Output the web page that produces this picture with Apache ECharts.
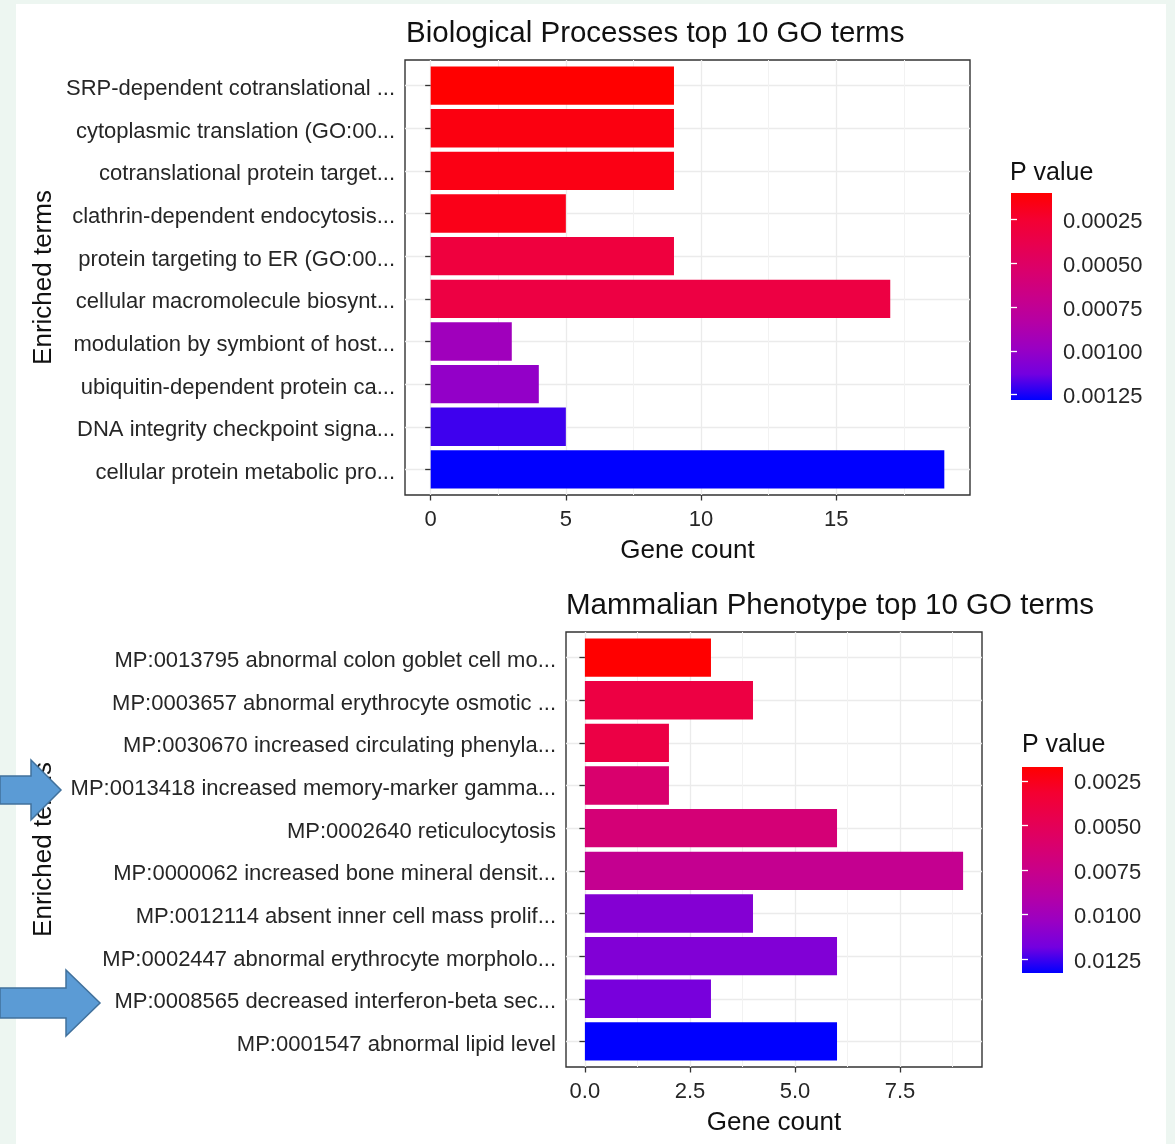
<!DOCTYPE html>
<html><head><meta charset="utf-8">
<script src="https://cdn.jsdelivr.net/npm/echarts@6/dist/echarts.min.js"></script>
<style>
html,body{margin:0;padding:0;background:#EDF6F1;width:1175px;height:1144px;overflow:hidden;}
#bg{position:absolute;left:16px;top:4px;width:1150px;height:1140px;background:#ffffff;}
#c{position:absolute;left:0;top:0;width:1175px;height:1144px;}
</style>
</head><body><div id="bg"></div><div id="c"></div>
<script>
// ---------- data ----------
const bpTitle = 'Biological Processes top 10 GO terms';
const bpTerms = [
  'SRP-dependent cotranslational ...',
  'cytoplasmic translation (GO:00...',
  'cotranslational protein target...',
  'clathrin-dependent endocytosis...',
  'protein targeting to ER (GO:00...',
  'cellular macromolecule biosynt...',
  'modulation by symbiont of host...',
  'ubiquitin-dependent protein ca...',
  'DNA integrity checkpoint signa...',
  'cellular protein metabolic pro...'
];
const bpCounts = [9, 9, 9, 5, 9, 17, 3, 4, 5, 19];
const bpPvalues = [0.000100, 0.000147, 0.000159, 0.000171, 0.000312, 0.000336, 0.000950, 0.001010, 0.001200, 0.001280];
const bpCountTicks = [0, 5, 10, 15];
const bpPTicks = [0.00025, 0.00050, 0.00075, 0.00100, 0.00125];

const mpTitle = 'Mammalian Phenotype top 10 GO terms';
const mpTerms = [
  'MP:0013795 abnormal colon goblet cell mo...',
  'MP:0003657 abnormal erythrocyte osmotic ...',
  'MP:0030670 increased circulating phenyla...',
  'MP:0013418 increased memory-marker gamma...',
  'MP:0002640 reticulocytosis',
  'MP:0000062 increased bone mineral densit...',
  'MP:0012114 absent inner cell mass prolif...',
  'MP:0002447 abnormal erythrocyte morpholo...',
  'MP:0008565 decreased interferon-beta sec...',
  'MP:0001547 abnormal lipid level'
];
const mpCounts = [3, 4, 2, 2, 6, 9, 4, 6, 3, 6];
const mpPvalues = [0.00172, 0.00403, 0.00415, 0.00611, 0.00657, 0.00784, 0.01119, 0.01131, 0.01165, 0.01327];
const mpCountTicks = [0, 2.5, 5, 7.5];
const mpPTicks = [0.0025, 0.0050, 0.0075, 0.0100, 0.0125];

// ---------- styles ----------
const FONT = '"Liberation Sans", Arial, sans-serif';
const gradientColors = ['#FF0000', '#F40031', '#E8004F', '#DA006C', '#C90089', '#B500A5', '#9A00C3', '#7300E0', '#0000FF'];
const TXT = '#262626';

function xAxisFor(gridIndex, counts, ticks, decimals) {
  const mx = Math.max.apply(null, counts);
  const step = ticks[1] - ticks[0];
  return {
    type: 'value', gridIndex: gridIndex,
    min: -0.05 * mx, max: 1.05 * mx,
    splitNumber: 4, minInterval: step, maxInterval: step,
    name: 'Gene count', nameLocation: 'middle', nameGap: 43,
    nameTextStyle: {fontFamily: FONT, fontSize: 26, color: '#111'},
    axisLine: {show: false},
    axisTick: {show: true, length: 5.5, lineStyle: {color: '#333', width: 1.3}, customValues: ticks},
    axisLabel: {show: true, customValues: ticks, margin: 14, fontFamily: FONT, fontSize: 22, color: TXT,
      formatter: v => (ticks.some(t => Math.abs(t - v) < 1e-9) ? v.toFixed(decimals) : '')},
    splitLine: {show: true, lineStyle: {color: '#EBEBEB', width: 1.3}},
    minorTick: {show: false, splitNumber: 2},
    minorSplitLine: {show: true, lineStyle: {color: '#F2F2F2', width: 1}}
  };
}
function yAxisFor(gridIndex, terms, nameGap) {
  const idx = terms.map((t, i) => i + 1);
  return {
    type: 'value', gridIndex: gridIndex, inverse: true,
    min: 0.4, max: terms.length + 0.6,
    splitNumber: terms.length, minInterval: 1, maxInterval: 1,
    name: 'Enriched terms', nameLocation: 'middle', nameRotate: 90, nameGap: nameGap,
    nameTextStyle: {fontFamily: FONT, fontSize: 26, color: '#111'},
    axisLine: {show: false},
    axisTick: {show: true, length: 5.5, lineStyle: {color: '#333', width: 1.3}, customValues: idx},
    axisLabel: {show: true, customValues: idx, margin: 10, fontFamily: FONT, fontSize: 22, color: TXT,
      rich: {t: {fontFamily: FONT, fontSize: 22, color: TXT, padding: [7, 0, 0, 0]}},
      formatter: v => { const k = Math.round(v); return Math.abs(k - v) < 1e-9 && k >= 1 && k <= terms.length ? '{t|' + terms[k - 1] + '}' : ''; }},
    splitLine: {show: true, lineStyle: {color: '#EBEBEB', width: 1.3}}
  };
}
function barAxisX(gridIndex) {
  return {type: 'value', gridIndex: gridIndex, min: 0, max: 1, show: false};
}
function barScaleY(gridIndex, pvals, ticks, side, showLabels, decimals) {
  const step = ticks[1] - ticks[0];
  return {
    type: 'value', gridIndex: gridIndex, inverse: true, position: side, z: 10,
    min: Math.min.apply(null, pvals), max: Math.max.apply(null, pvals),
    splitNumber: ticks.length, minInterval: step, maxInterval: step,
    axisLine: {show: false},
    splitLine: {show: false},
    axisTick: {show: true, inside: true, length: 6, lineStyle: {color: '#ffffff', width: 1.3}, customValues: ticks},
    axisLabel: {show: showLabels, customValues: ticks, margin: 11, fontFamily: FONT, fontSize: 22, color: TXT,
      rich: {t: {fontFamily: FONT, fontSize: 22, color: TXT, padding: [5, 0, 0, 0]}},
      formatter: v => (ticks.some(t => Math.abs(t - v) < 1e-12) ? '{t|' + v.toFixed(decimals) + '}' : '')}
  };
}
function barSeries(xi, yi, counts, pvals) {
  return {
    type: 'custom', xAxisIndex: xi, yAxisIndex: yi, z: 2,
    data: counts.map((c, i) => [c, i + 1, pvals[i]]),
    encode: {x: 0, y: 1},
    renderItem: (params, api) => {
      const y = api.value(1), v = api.value(0);
      const a = api.coord([0, y]), b = api.coord([v, y]);
      const h = api.size([0, 0.9])[1];
      return {type: 'rect', shape: {x: a[0], y: a[1] - h / 2, width: b[0] - a[0], height: h},
        style: {fill: api.visual('color')}};
    }
  };
}
function colorbarSeries(xi, yi, pvals) {
  const lo = Math.min.apply(null, pvals), hi = Math.max.apply(null, pvals);
  const stops = gradientColors.map((c, i) => ({offset: i / (gradientColors.length - 1), color: c}));
  return {
    type: 'custom', xAxisIndex: xi, yAxisIndex: yi, z: 2, silent: true,
    data: [[0, lo, hi]],
    encode: {x: 0, y: [1, 2]},
    renderItem: (params, api) => {
      const p0 = api.coord([0, api.value(1)]);
      const p1 = api.coord([1, api.value(2)]);
      return {type: 'rect', shape: {x: p0[0], y: p0[1], width: p1[0] - p0[0], height: p1[1] - p0[1]},
        style: {fill: new echarts.graphic.LinearGradient(0, 0, 0, 1, stops)}};
    }
  };
}
function arrow(pts) {
  return {type: 'polygon', z: 100, shape: {points: pts},
    style: {fill: '#5B9BD5', stroke: '#41719C', lineWidth: 1.5}};
}

const chart = echarts.init(document.getElementById('c'), null, {renderer: 'canvas'});
const titleStyle = {fontFamily: FONT, fontSize: 29.5, fontWeight: 'normal', color: '#111'};
const legStyle = {fontFamily: FONT, fontSize: 25, fontWeight: 'normal', color: '#111'};
const option = {
  animation: false,
  title: [
    {text: bpTitle, left: 406, top: 19, padding: 0, textStyle: titleStyle},
    {text: mpTitle, left: 566, top: 591, padding: 0, textStyle: titleStyle},
    {text: 'P value', left: 1010, top: 161, padding: 0, textStyle: legStyle},
    {text: 'P value', left: 1022, top: 733, padding: 0, textStyle: legStyle}
  ],
  grid: [
    {left: 405, top: 60, width: 565, height: 435, show: true, borderColor: '#333', borderWidth: 1.4, backgroundColor: 'transparent'},
    {left: 1011, top: 193, width: 41, height: 207},
    {left: 566, top: 632, width: 416, height: 435, show: true, borderColor: '#333', borderWidth: 1.4, backgroundColor: 'transparent'},
    {left: 1022, top: 767, width: 41, height: 206}
  ],
  xAxis: [
    xAxisFor(0, bpCounts, bpCountTicks, 0),
    barAxisX(1),
    xAxisFor(2, mpCounts, mpCountTicks, 1),
    barAxisX(3)
  ],
  yAxis: [
    yAxisFor(0, bpTerms, 348),
    barScaleY(1, bpPvalues, bpPTicks, 'right', true, 5),
    barScaleY(1, bpPvalues, bpPTicks, 'left', false, 5),
    yAxisFor(2, mpTerms, 509),
    barScaleY(3, mpPvalues, mpPTicks, 'right', true, 4),
    barScaleY(3, mpPvalues, mpPTicks, 'left', false, 4)
  ],
  visualMap: [
    {type: 'continuous', show: false, seriesIndex: 0, dimension: 2,
      min: Math.min.apply(null, bpPvalues), max: Math.max.apply(null, bpPvalues), inRange: {color: gradientColors}},
    {type: 'continuous', show: false, seriesIndex: 2, dimension: 2,
      min: Math.min.apply(null, mpPvalues), max: Math.max.apply(null, mpPvalues), inRange: {color: gradientColors}}
  ],
  series: [
    barSeries(0, 0, bpCounts, bpPvalues),
    colorbarSeries(1, 1, bpPvalues),
    barSeries(2, 3, mpCounts, mpPvalues),
    colorbarSeries(3, 4, mpPvalues)
  ],
  graphic: [
    arrow([[0, 776], [31, 776], [31, 760], [61, 790], [31, 820], [31, 804], [0, 804]]),
    arrow([[0, 988], [66, 988], [66, 970], [100, 1003], [66, 1036], [66, 1018], [0, 1018]])
  ]
};
chart.setOption(option);
</script>
</body></html>
